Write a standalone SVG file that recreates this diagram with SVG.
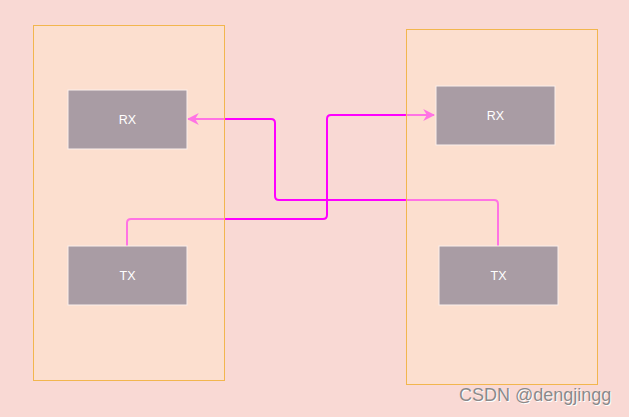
<svg xmlns="http://www.w3.org/2000/svg" width="629" height="417" viewBox="0 0 629 417">
<style>
.bg{fill:#f9d9d4}
.box{fill:#ffe5ca;fill-opacity:0.5;stroke:#f2b64e;stroke-width:1}
.node{fill:#a99ca4;stroke:#fbf0ec;stroke-width:1}
.lbl{font-family:"Liberation Sans",Arial,sans-serif;font-size:12.5px;fill:#ffffff;text-anchor:middle;dominant-baseline:central}
.conn{fill:none;stroke:#ff00ff;stroke-width:2}
.wm{font-family:"Liberation Sans",Arial,sans-serif;font-size:18px}
</style>
<defs>
<marker id="arr" viewBox="0 0 10 10" refX="9" refY="5" markerWidth="6" markerHeight="6" orient="auto" markerUnits="strokeWidth">
<path d="M0,0 L10,5 L0,10 L3,5 Z" fill="#ff00ff"/>
</marker>
</defs>
<rect class="bg" x="0" y="0" width="629" height="417"/>
<g id="connectors">
<path class="conn" d="M127,246 V223 Q127,219 131,219 H323 Q327,219 327,215 V119 Q327,115 331,115 H434" marker-end="url(#arr)"/>
<path class="conn" d="M498,246 V204 Q498,200 494,200 H279 Q275,200 275,196 V123 Q275,119 271,119 H188" marker-end="url(#arr)"/>
</g>
<g id="left-container"><rect class="box" x="33.5" y="25.5" width="191" height="355"/></g>
<g id="right-container"><rect class="box" x="406.5" y="29.5" width="191" height="355"/></g>
<g id="left-rx"><rect class="node" x="68" y="90" width="119" height="59"/><text class="lbl" x="127.5" y="119.5">RX</text></g>
<g id="left-tx"><rect class="node" x="68" y="246" width="119" height="59"/><text class="lbl" x="127.5" y="275.5">TX</text></g>
<g id="right-rx"><rect class="node" x="436" y="86" width="119" height="59"/><text class="lbl" x="495.5" y="115.5">RX</text></g>
<g id="right-tx"><rect class="node" x="439" y="246" width="119" height="59"/><text class="lbl" x="498.5" y="275.5">TX</text></g>
<g id="watermark">
<text class="wm" x="460" y="402" fill="#ffffff">CSDN @dengjingg</text>
<text class="wm" x="459" y="401" fill="#8a8a8a">CSDN @dengjingg</text>
</g>
</svg>
